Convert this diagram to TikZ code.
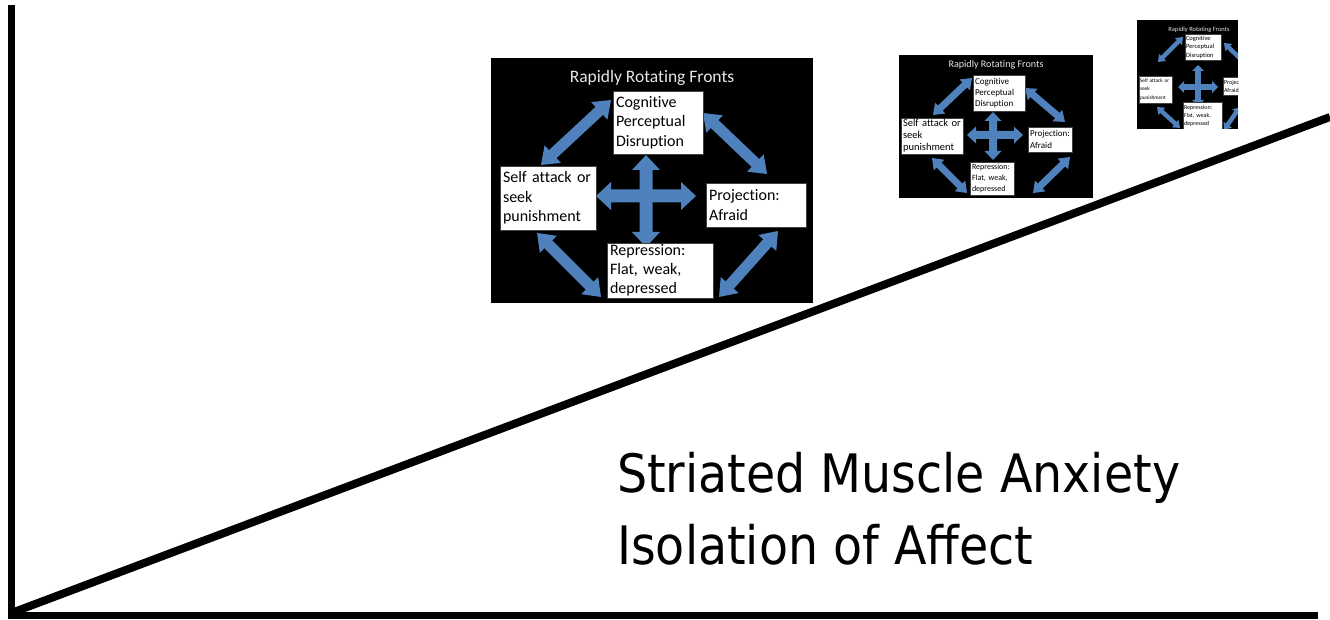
\documentclass[tikz,border=0pt]{standalone}
\usepackage{fontspec}
\setmainfont{Carlito}[Ligatures={NoCommon,NoRare}]
\newfontfamily\labelfont{DejaVu Sans}
\usetikzlibrary{calc}
\definecolor{arrowblue}{HTML}{4F81BD}
\definecolor{titlegray}{HTML}{E6E6E6}

% double-headed block arrow between (#1,#2) and (#3,#4):
% #5 half shaft width, #6 half head width, #7 head length
\newcommand\dblarrow[7]{%
  \pgfmathsetmacro\arrAng{atan2((#4)-(#2),(#3)-(#1))}%
  \pgfmathsetmacro\arrLen{veclen((#3)-(#1),(#4)-(#2))}%
  \begin{scope}[shift={(#1,#2)},rotate=-\arrAng]
    \fill[arrowblue] (0,0) -- (#7,-#6) -- (#7,-#5) -- (\arrLen-#7,-#5)
      -- (\arrLen-#7,-#6) -- (\arrLen,0) -- (\arrLen-#7,#6) -- (\arrLen-#7,#5)
      -- (#7,#5) -- (#7,#6) -- cycle;
  \end{scope}}

\tikzset{
  axisline/.style={line width=7pt, line join=miter, line cap=butt},
  slide/.style={fill=black},
  slidebox/.style={draw=black!75, line width=0.4pt, fill=white, anchor=north west,
    align=left, inner ysep=0pt, outer sep=0pt},
  slidetitle/.style={text=titlegray, inner sep=0pt},
  caption/.style={anchor=base west, inner sep=0pt,
    font=\labelfont\fontsize{53}{64}\selectfont},
}

\begin{document}
\begin{tikzpicture}[x=1pt,y=-1pt]
\useasboundingbox[fill=white] (0,0) rectangle (1330,620);

% axes and rising diagonal
\coordinate (top) at (11,5);
\coordinate (origin) at (11,615);
\coordinate (right) at (1318,615);
\coordinate (diagstart) at (14,612);
\coordinate (diagend) at (1330,117);
\draw[axisline] (top) -- (origin) -- (right);
\draw[line width=8pt] (diagstart) -- (diagend);

% ---------- large slide ----------
\fill[slide] (491,58) rectangle (813,303);
\node[slidetitle, anchor=base, font=\fontsize{17.5}{20}\selectfont] (tA) at (652,83) {Rapidly Rotating Fronts};
\dblarrow{611}{100}{541}{165}{5.5}{12}{16}
\dblarrow{703}{113}{767}{174}{5.5}{12}{16}
\dblarrow{537}{233}{601}{297}{5.5}{12}{16}
\dblarrow{778}{231}{719}{297}{5.5}{12}{16}
\dblarrow{646}{155}{646}{247}{6.5}{14}{15}
\dblarrow{596}{196}{696}{196}{6.5}{14}{15}
\node[slidebox, inner xsep=3pt, text width=84pt, minimum height=63pt,
  font=\fontsize{16}{19.5}\selectfont] (cogA) at (613,91) {Cognitive\\Perceptual\\Disruption};
\node[slidebox, inner xsep=3pt, text width=90pt, minimum height=64pt,
  font=\fontsize{16}{19.5}\selectfont] (selfA) at (500,166) {Self~attack~or\\seek\\punishment};
\node[slidebox, inner xsep=3pt, text width=94pt, minimum height=44pt,
  font=\fontsize{16}{19.5}\selectfont] (projA) at (706,183) {Projection:\\Afraid};
\node[slidebox, inner xsep=3pt, text width=100pt, minimum height=55pt,
  font=\fontsize{16}{19}\selectfont] (repA) at (607,243) {Repression:\\Flat,~weak,\\depressed};

% ---------- medium slide ----------
\fill[slide] (899,55) rectangle (1093,198);
\node[slidetitle, anchor=center, font=\fontsize{10.1}{12}\selectfont] (tB) at (996,65) {Rapidly Rotating Fronts};
\dblarrow{972}{78}{933}{115}{3.5}{7.5}{10}
\dblarrow{1025}{88}{1065}{122}{3.5}{7.5}{10}
\dblarrow{932}{158}{967}{193}{3.5}{7.5}{10}
\dblarrow{1070}{157}{1033}{193}{3.5}{7.5}{10}
\dblarrow{993}{112}{993}{160}{4}{8.5}{9}
\dblarrow{967}{135}{1023}{135}{4}{8.5}{9}
\node[slidebox, inner xsep=2pt, text width=48pt, minimum height=36pt,
  font=\fontsize{9}{11}\selectfont] (cogB) at (973,75) {Cognitive\\Perceptual\\Disruption};
\node[slidebox, inner xsep=2pt, text width=58pt, minimum height=36pt,
  font=\fontsize{10.5}{12}\selectfont] (selfB) at (901,118) {Self~attack~or\\seek\\punishment};
\node[slidebox, inner xsep=2pt, text width=40pt, minimum height=25pt,
  font=\fontsize{9}{11.5}\selectfont] (projB) at (1028,127) {Projection:\\Afraid};
\node[slidebox, inner xsep=2pt, text width=40pt, minimum height=33pt,
  font=\fontsize{8}{11}\selectfont] (repB) at (970,162) {Repression:\\Flat,~weak,\\depressed};

% ---------- small slide (cropped on the right) ----------
\begin{scope}
\clip (1137,20) rectangle (1238,129);
\fill[slide] (1137,20) rectangle (1238,129);
\node[slidetitle, anchor=center, font=\fontsize{6.5}{8}\selectfont] (tC) at (1199,30) {Rapidly Rotating Fronts};
\dblarrow{1183}{37}{1158}{62}{2.2}{5}{6.5}
\dblarrow{1224}{43}{1252}{70}{2.2}{5}{6.5}
\dblarrow{1157}{107}{1180}{128}{2.2}{5}{6.5}
\dblarrow{1240}{107}{1224}{130}{2.2}{5}{6.5}
\dblarrow{1198}{65}{1198}{106}{2.8}{6}{6}
\dblarrow{1178}{87}{1218}{87}{2.8}{6}{6}
\node[slidebox, inner xsep=1pt, text width=34pt, minimum height=26pt,
  font=\fontsize{6.5}{8.7}\selectfont] (cogC) at (1185,34) {Cognitive\\Perceptual\\Disruption};
\node[slidebox, inner xsep=1pt, text width=31pt, minimum height=27pt,
  font=\fontsize{5.3}{8.5}\selectfont] (selfC) at (1139,76) {Self~attack~or\\seek\\punishment};
\node[slidebox, inner xsep=1pt, text width=30pt, minimum height=18pt,
  font=\fontsize{6}{8}\selectfont] (projC) at (1223,77) {Projection:\\Afraid};
\node[slidebox, inner xsep=1pt, text width=37pt, minimum height=28pt,
  font=\fontsize{6}{8.3}\selectfont] (repC) at (1183,102) {Repression:\\Flat,~weak,\\depressed};
\end{scope}

% ---------- caption ----------
\node[caption] (anxiety) at (617,492) {\scalebox{0.896}[1]{Striated Muscle Anxiety}};
\node[caption] (isolation) at (617,564) {\scalebox{0.896}[1]{Isolation of Affect}};
\end{tikzpicture}
\end{document}
